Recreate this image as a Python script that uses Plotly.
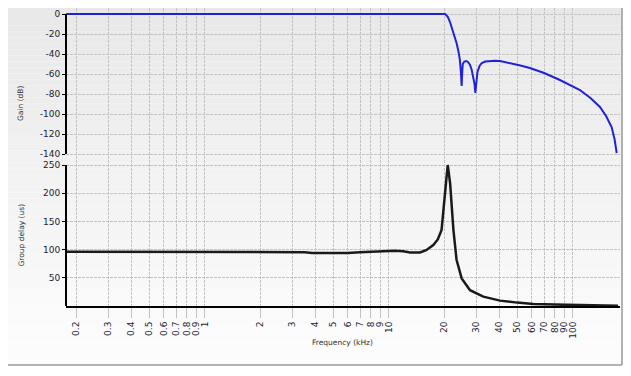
import numpy as np
import plotly.graph_objects as go

# ---------------- data ----------------
gain_freq_khz = [0.177, 20.3, 21.0, 21.56, 22.5, 23.4, 24.0, 24.4, 24.7, 24.95, 25.1, 25.3,
                 25.8, 26.4, 27.0, 27.7, 28.3, 28.9, 29.3, 29.6, 29.9, 30.4, 31.2, 32.1,
                 33.5, 35.6, 38.0, 40.3, 45.7, 52.0, 58.6, 70.0, 85.3, 97.0, 109.6, 125.0,
                 140.8, 152.0, 162.9, 169.0, 173.6]
gain_db = [0, 0, -3, -8, -19, -29, -38, -46, -58, -72, -60, -50,
           -47.5, -47, -48, -51, -56, -63, -70, -79, -68, -58, -52, -49,
           -47.5, -47, -46.8, -47, -49, -51.5, -54, -59, -66, -71, -76, -84,
           -93, -102, -113, -125, -139]

delay_freq_khz = [0.177, 3.0, 3.5, 3.84, 6.0, 6.98, 8.0, 8.97, 10.8, 12.0, 13.1, 14.8, 16.0,
                  17.5, 18.5, 19.4, 20.2, 20.6, 20.96, 21.3, 21.6, 22.5, 23.4, 24.95, 27.7,
                  32.7, 40.3, 50.0, 61.1, 80.0, 100.0, 119.0, 120.5, 176.5]
delay_us = [96, 96, 95.5, 94, 94, 95.5, 96.5, 97.5, 98, 97, 95, 95, 99,
            108, 118, 135, 188, 225, 250, 235, 217, 135, 82, 49, 28,
            16.5, 9.5, 6, 3.5, 2.5, 2, 1.8, 0.6, 0.5]

x_tick_vals = [0.2, 0.3, 0.4, 0.5, 0.6, 0.7, 0.8, 0.9, 1, 2, 3, 4, 5, 6, 7, 8, 9, 10,
               20, 30, 40, 50, 60, 70, 80, 90, 100]
x_tick_text = ["0.2", "0.3", "0.4", "0.5", "0.6", "0.7", "0.8", "0.9", "1", "2", "3", "4",
               "5", "6", "7", "8", "9", "10", "20", "30", "40", "50", "60", "70", "80",
               "90", "100"]
gain_tick_vals = [0, -20, -40, -60, -80, -100, -120, -140]
gain_tick_text = ["0", "-20", "-40", "-60", "-80", "-100", "-120", "-140"]
delay_tick_vals = [50, 100, 150, 200, 250]
delay_tick_text = ["50", "100", "150", "200", "250"]

# ---------------- layout geometry (screen pixels; page has 8px body margin) ----------------
OFF = 8
W, H = 631 - OFF, 376 - OFF
def px_x(p): return (p - OFF) / W
def px_y(p): return 1 - (p - OFF) / H

x_dom = [px_x(66), px_x(620)]
x_range = [np.log10(0.2) - 10 / 184, np.log10(0.2) + 544 / 184]
top_dom = [px_y(159.5), px_y(8)]
bot_dom = [px_y(306), px_y(159.5)]

fig = go.Figure()
fig.add_trace(go.Scatter(x=gain_freq_khz, y=gain_db, mode="lines",
                         line=dict(color="#2222d8", width=2), xaxis="x2", yaxis="y",
                         showlegend=False))
fig.add_trace(go.Scatter(x=delay_freq_khz, y=delay_us, mode="lines",
                         line=dict(color="#1a1a1a", width=2.5), xaxis="x", yaxis="y2",
                         showlegend=False))

# background gradient strips
shapes = []
n = 60
top_px, bot_px = OFF, 365
for i in range(n):
    y0 = top_px + (bot_px - top_px) * i / n
    y1 = top_px + (bot_px - top_px) * (i + 1) / n
    t = (i + 0.5) / n
    c = int(round(232 + (253 - 232) * t))
    shapes.append(dict(type="rect", xref="paper", yref="paper", x0=0, x1=px_x(622),
                       y0=px_y(y1), y1=px_y(y0), fillcolor=f"rgb({c},{c},{c})",
                       line=dict(width=0), layer="below"))
# outer frame (right and bottom)
shapes.append(dict(type="line", xref="paper", yref="paper", x0=px_x(622), x1=px_x(622),
                   y0=px_y(365), y1=1, line=dict(color="#9a9a9a", width=1.5)))
shapes.append(dict(type="line", xref="paper", yref="paper", x0=0, x1=px_x(622),
                   y0=px_y(365), y1=px_y(365), line=dict(color="#9a9a9a", width=1.5)))
# left axis lines
shapes.append(dict(type="line", xref="paper", yref="y", x0=x_dom[0], x1=x_dom[0],
                   y0=-140, y1=0, line=dict(color="black", width=2)))
shapes.append(dict(type="line", xref="paper", yref="y2", x0=x_dom[0], x1=x_dom[0],
                   y0=0, y1=250, line=dict(color="black", width=2)))

tick_font = dict(family="DejaVu Sans", size=9, color="#1c1c30")
title_font = dict(family="DejaVu Sans", size=7.5, color="#303030")
grid = dict(showgrid=True, gridcolor="#c2c2c2", gridwidth=1, griddash="3px,1px")

fig.update_layout(
    width=W, height=H,
    margin=dict(l=0, r=0, t=0, b=0),
    paper_bgcolor="white",
    plot_bgcolor="rgba(0,0,0,0)",
    shapes=shapes,
    xaxis=dict(type="log", domain=x_dom, range=x_range, anchor="y2",
               tickvals=x_tick_vals, ticktext=x_tick_text, tickangle=-90,
               tickfont=tick_font, ticks="outside", ticklen=10, tickcolor="#c0c0c0",
               showline=True, linecolor="black", linewidth=2, zeroline=False, **grid),
    xaxis2=dict(type="log", domain=x_dom, range=x_range, anchor="y", matches="x",
                tickvals=x_tick_vals, showticklabels=False, ticks="",
                showline=False, zeroline=False, **grid),
    yaxis=dict(domain=top_dom, range=[-145.5, 6], anchor="x2",
               tickvals=gain_tick_vals, ticktext=gain_tick_text, tickfont=tick_font,
               ticks="outside", ticklen=3, tickcolor="black", showline=False,
               zeroline=False, **grid),
    yaxis2=dict(domain=bot_dom, range=[0, 259.75], anchor="x",
                tickvals=delay_tick_vals, ticktext=delay_tick_text, tickfont=tick_font,
                ticks="outside", ticklen=3, tickcolor="black", showline=False,
                zeroline=False, **grid),
    annotations=[
        dict(text="Gain (dB)", xref="paper", yref="paper", x=px_x(14), y=px_y(84),
             textangle=-90, showarrow=False, font=title_font),
        dict(text="Group delay (us)", xref="paper", yref="paper", x=px_x(14), y=px_y(235),
             textangle=-90, showarrow=False, font=title_font),
        dict(text="Frequency (kHz)", xref="paper", yref="paper", x=px_x(342), y=px_y(349),
             showarrow=False, font=title_font),
    ],
)

fig.write_html("out.html")
